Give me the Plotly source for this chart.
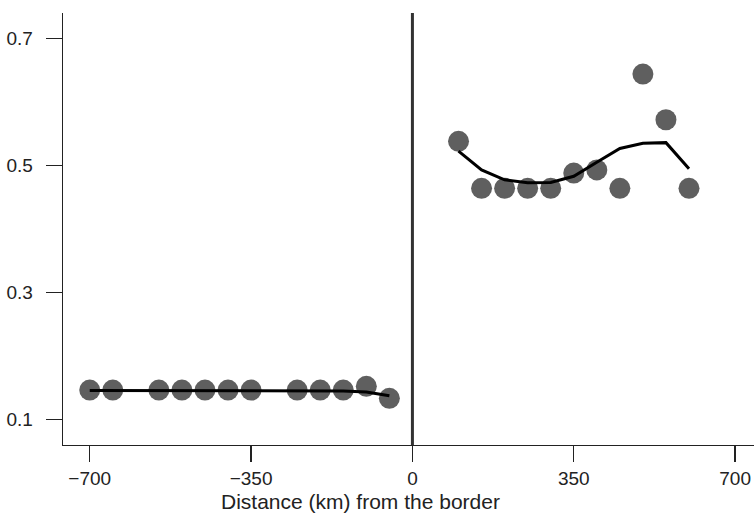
import plotly.graph_objects as go

# Left of border (km) and outcome
left_x = [-700, -650, -550, -500, -450, -400, -350, -250, -200, -150, -100, -50]
left_y = [0.146, 0.146, 0.146, 0.146, 0.146, 0.146, 0.146, 0.146, 0.146, 0.146, 0.152, 0.133]
left_fit = [0.1455, 0.1455, 0.1455, 0.1455, 0.1455, 0.1455, 0.1455, 0.1455, 0.1452, 0.1446, 0.143, 0.137]

# Right of border
right_x = [100, 150, 200, 250, 300, 350, 400, 450, 500, 550, 600]
right_y = [0.538, 0.464, 0.464, 0.464, 0.464, 0.488, 0.493, 0.464, 0.644, 0.572, 0.464]
right_fit = [0.5225, 0.493, 0.4775, 0.4727, 0.4732, 0.483, 0.505, 0.5268, 0.535, 0.536, 0.4948]

x_ticks = [-700, -350, 0, 350, 700]
y_ticks = [0.1, 0.3, 0.5, 0.7]
x_title = "Distance (km) from the border"

POINT_COLOR = "#5f5f5f"
FONT = "Liberation Sans, Arial, Helvetica, sans-serif"

fig = go.Figure()
for xs, ys in [(left_x, left_y), (right_x, right_y)]:
    fig.add_trace(go.Scatter(x=xs, y=ys, mode="markers",
                             marker=dict(size=21, color=POINT_COLOR, line=dict(width=0)),
                             showlegend=False, hoverinfo="skip"))
for xs, fit in [(left_x, left_fit), (right_x, right_fit)]:
    fig.add_trace(go.Scatter(x=xs, y=fit, mode="lines",
                             line=dict(color="black", width=3),
                             showlegend=False, hoverinfo="skip"))

fig.add_shape(type="line", xref="x", yref="paper", x0=0, x1=0, y0=0, y1=1,
              line=dict(color="#333333", width=3))

fig.add_annotation(text=x_title, xref="paper", yref="paper", x=0.43, y=0,
                   xanchor="center", yanchor="top", yshift=-43, showarrow=False,
                   font=dict(family=FONT, size=21, color="#222222"))

fig.update_layout(
    width=754, height=514,
    margin=dict(l=63, r=0, t=13, b=69),
    paper_bgcolor="white", plot_bgcolor="white",
    font=dict(family=FONT, size=19, color="#222222"),
    xaxis=dict(range=[-758, 741], tickvals=x_ticks, ticks="outside", ticklen=16,
               tickwidth=1.3, tickcolor="#222222", showline=True, linecolor="#222222",
               linewidth=1.3, showgrid=False, zeroline=False, ticklabelstandoff=0,
               tickfont=dict(size=19)),
    yaxis=dict(range=[0.0595, 0.7403], tickvals=y_ticks, tickformat=".1f",
               ticks="outside", ticklen=16, tickwidth=1.3, tickcolor="#222222",
               showline=True, linecolor="#222222", linewidth=1.3, showgrid=False,
               zeroline=False, ticklabelstandoff=9, tickfont=dict(size=19)),
)

fig.write_html("out.html", config={"displayModeBar": False, "staticPlot": True},
               post_script=("document.documentElement.style.overflow='hidden';"
                            "document.body.style.margin='0';"
                            "document.body.style.overflow='hidden';"))
